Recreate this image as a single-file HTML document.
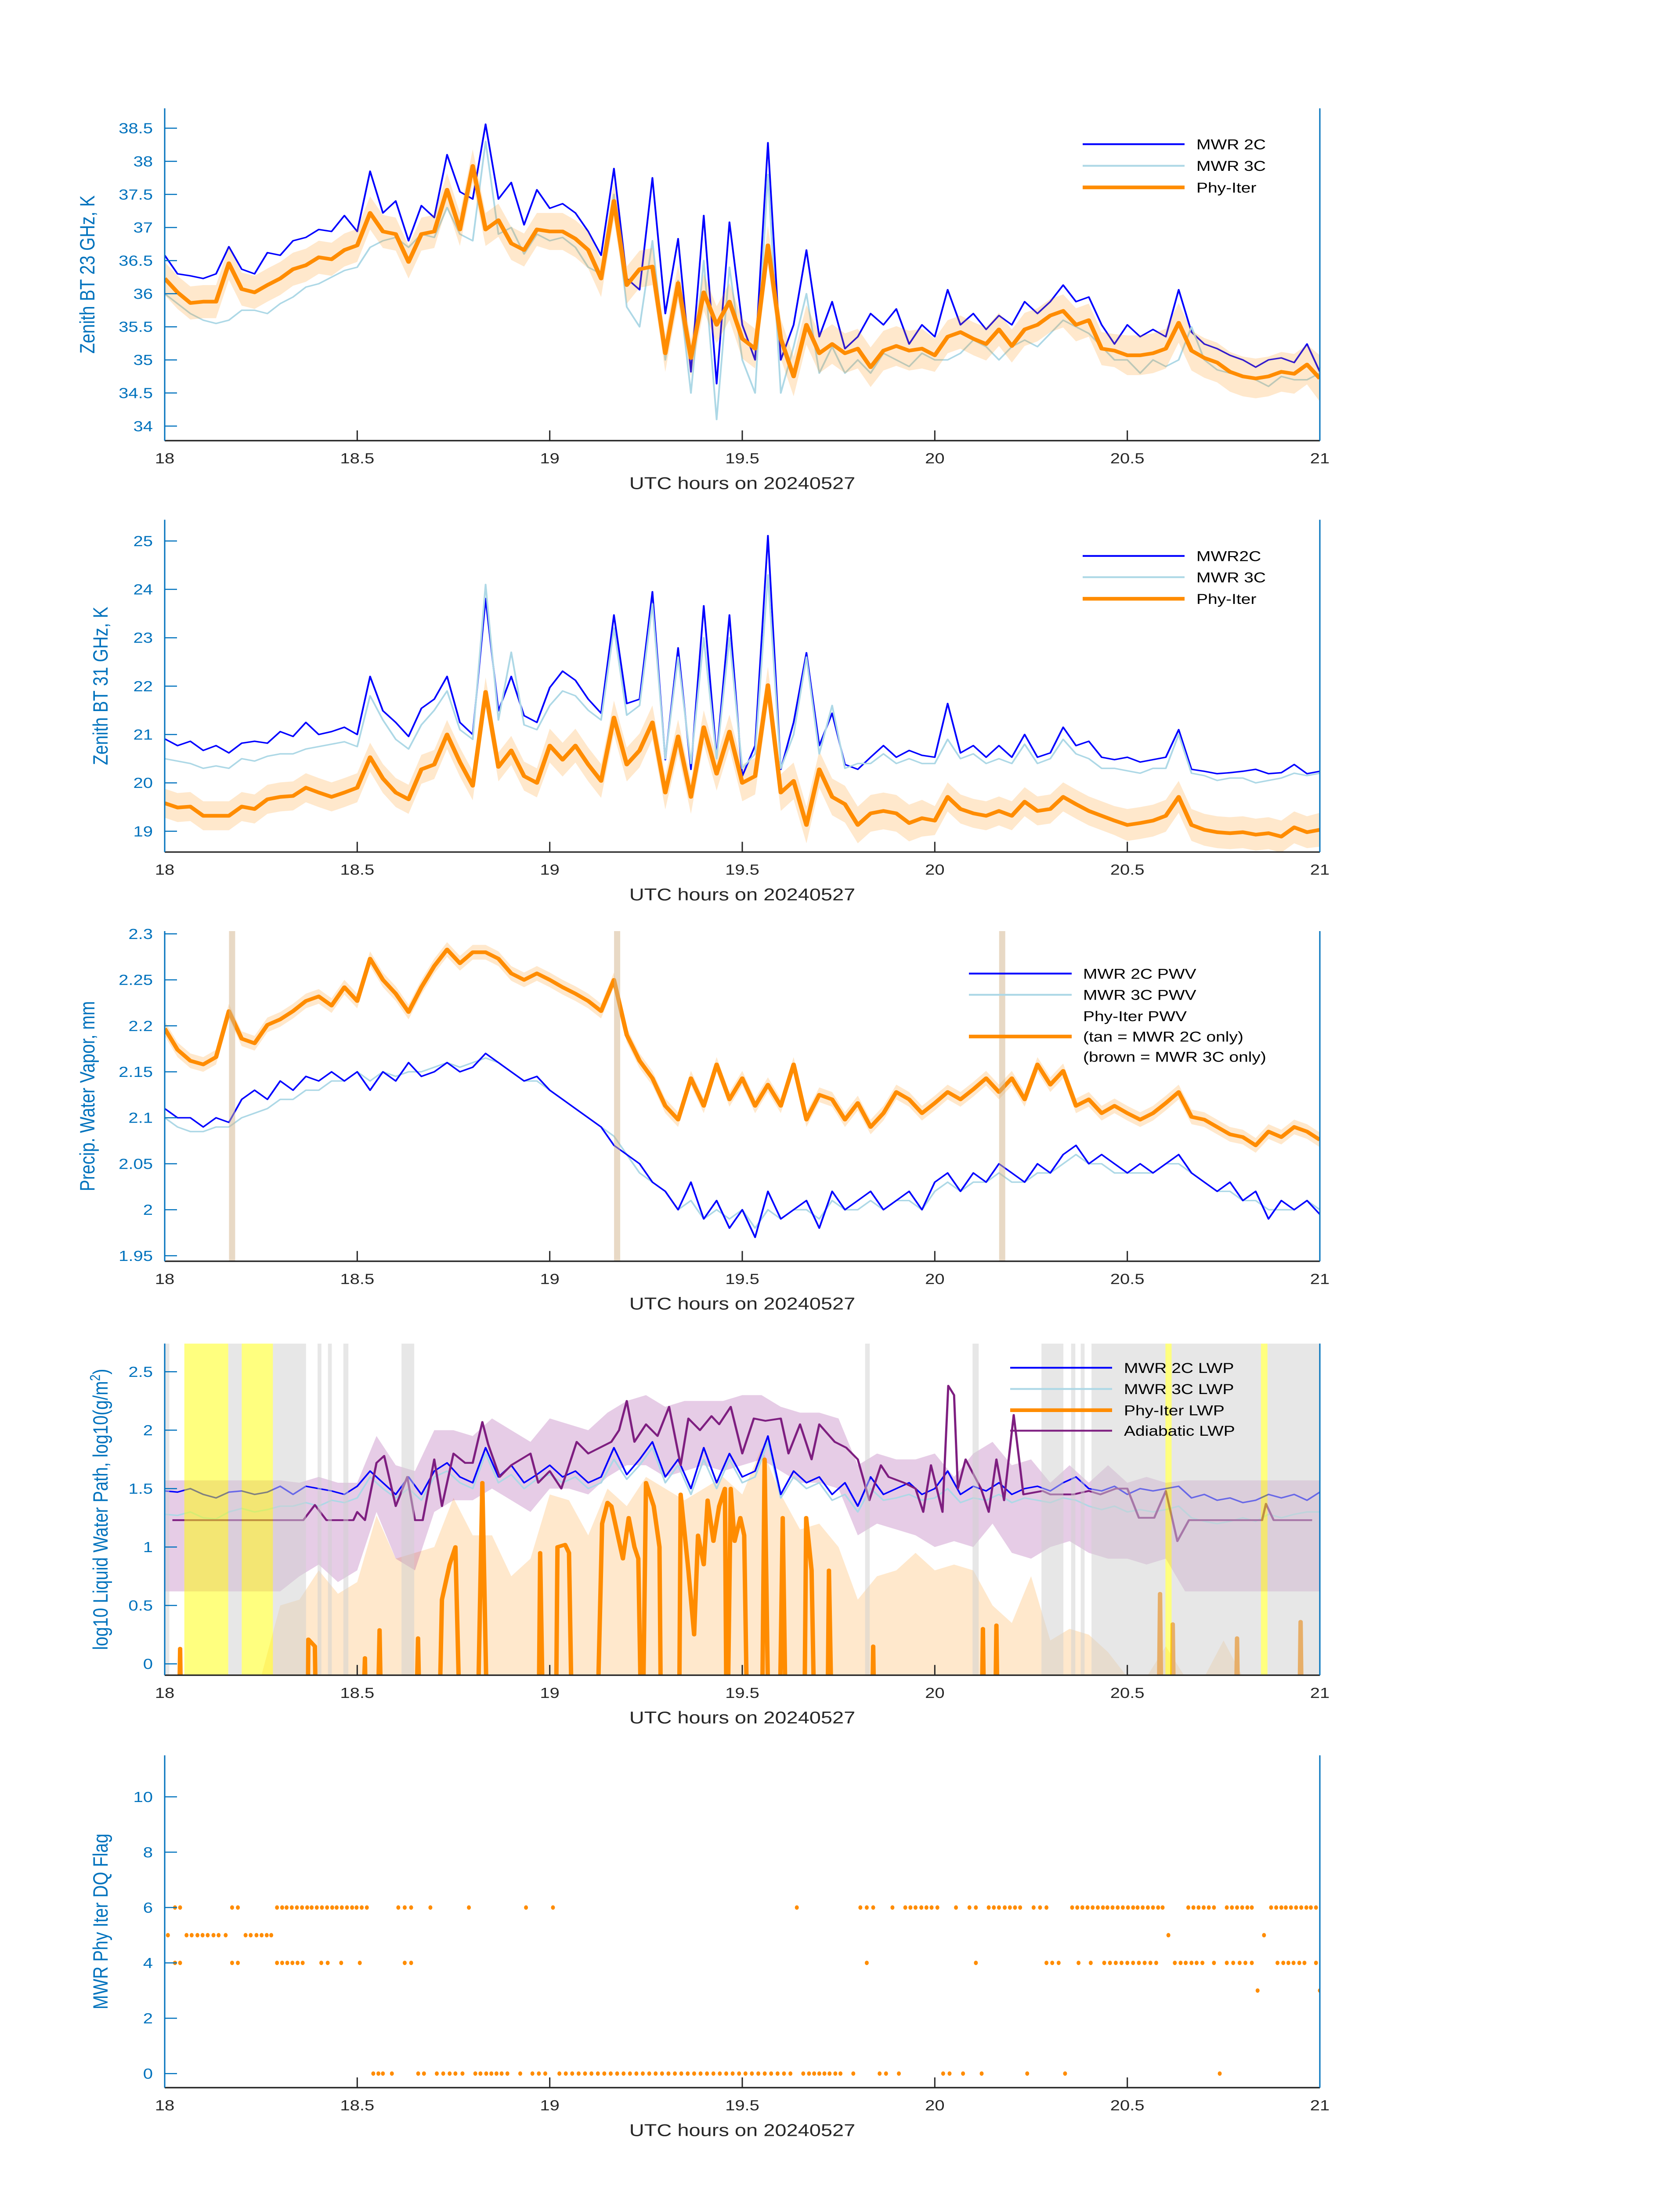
<!DOCTYPE html>
<html><head><meta charset="utf-8"><title>MWR Phy-Iter retrieval comparison, 20240527</title>
<style>html,body{margin:0;padding:0;background:#fff;width:100%;height:100%;overflow:hidden}svg{display:block;position:absolute;left:0;top:0;width:100vw;height:100vh}text{font-family:"Liberation Sans","DejaVu Sans",sans-serif}</style>
</head><body>
<svg id="fig" viewBox="0 0 3825 6000" preserveAspectRatio="none" xmlns="http://www.w3.org/2000/svg">
<rect width="3825" height="6000" fill="#fff"/>
</svg>
<script>
// ---------- DATA (2-minute grid from 18.0 to 21.0 UTC, 91 samples) ----------
const gridStepHours = 2/60;
const xTicks = [18,18.5,19,19.5,20,20.5,21];
const xTickLabels = ['18','18.5','19','19.5','20','20.5','21'];

// Panel 1: 23 GHz BT
const bt23Mwr2c = [36.58,36.3,36.27,36.23,36.3,36.71,36.37,36.3,36.62,36.58,
36.8,36.85,36.97,36.94,37.18,36.94,37.85,37.22,37.4,36.8,
37.33,37.15,38.1,37.54,37.43,38.56,37.43,37.68,37.04,37.57,
37.29,37.36,37.22,36.94,36.58,37.89,36.23,36.06,37.75,35.7,
36.83,34.82,37.18,34.64,37.08,35.53,35.0,38.28,35.0,35.53,
36.66,35.35,35.88,35.17,35.35,35.7,35.53,35.77,35.24,35.53,
35.35,36.06,35.53,35.7,35.46,35.67,35.53,35.88,35.7,35.88,
36.13,35.88,35.95,35.53,35.24,35.53,35.35,35.46,35.35,36.06,
35.42,35.24,35.17,35.07,35.0,34.89,35.0,35.03,34.96,35.24,34.82];
const bt23Mwr3c = [36.0,35.85,35.7,35.6,35.55,35.6,35.75,35.75,35.7,35.85,
35.95,36.1,36.15,36.25,36.35,36.4,36.7,36.8,36.85,36.7,
36.9,36.85,37.3,36.9,36.8,38.3,36.9,37.0,36.6,36.9,
36.8,36.85,36.7,36.4,36.3,37.5,35.8,35.5,36.8,35.0,
36.2,34.5,36.5,34.1,36.4,35.0,34.5,37.8,34.5,35.2,
36.0,34.8,35.2,34.8,35.0,34.8,35.1,35.0,34.9,35.1,
35.0,35.0,35.1,35.3,35.2,35.0,35.2,35.3,35.2,35.4,
35.6,35.5,35.4,35.2,35.0,35.0,34.8,35.0,34.9,35.0,
35.5,35.0,34.85,34.8,34.75,34.7,34.6,34.75,34.7,34.7,34.8];
const bt23PhyIter = [36.23,36.02,35.86,35.88,35.88,36.46,36.07,36.02,36.13,36.23,
36.37,36.43,36.55,36.52,36.66,36.73,37.22,36.94,36.9,36.48,
36.9,36.94,37.57,36.97,37.93,36.97,37.11,36.76,36.66,36.97,
36.94,36.94,36.83,36.66,36.23,37.4,36.13,36.37,36.41,35.1,
36.16,35.03,36.02,35.53,35.88,35.32,35.17,36.73,35.32,34.75,
35.53,35.1,35.24,35.1,35.17,34.89,35.14,35.21,35.14,35.17,
35.07,35.35,35.42,35.32,35.24,35.46,35.21,35.46,35.53,35.67,
35.74,35.53,35.6,35.17,35.14,35.07,35.07,35.1,35.17,35.56,
35.14,35.03,34.96,34.82,34.75,34.72,34.75,34.82,34.79,34.93,34.72];
const bt23PhyErr = [0.25,0.25,0.28,0.3,0.25,0.3,0.35]; // per half hour

// Panel 2: 31 GHz BT
const bt31Mwr2c = [20.91,20.77,20.86,20.67,20.77,20.62,20.82,20.86,20.82,21.06,
20.96,21.25,21.0,21.06,21.15,21.0,22.2,21.49,21.25,20.96,
21.54,21.73,22.2,21.25,21.0,23.81,21.49,22.2,21.39,21.25,
21.97,22.31,22.12,21.73,21.44,23.47,21.64,21.73,23.95,20.48,
22.79,20.28,23.66,20.53,23.47,20.14,20.77,25.11,20.28,21.25,
22.69,20.77,21.44,20.38,20.28,20.53,20.77,20.53,20.67,20.57,
20.53,21.64,20.62,20.77,20.53,20.77,20.53,21.0,20.53,20.62,
21.15,20.77,20.86,20.53,20.48,20.53,20.43,20.48,20.53,21.1,
20.28,20.24,20.19,20.21,20.24,20.28,20.19,20.21,20.38,20.19,20.24];
const bt31Mwr3c = [20.5,20.45,20.4,20.3,20.35,20.3,20.5,20.45,20.55,20.6,
20.6,20.7,20.75,20.8,20.85,20.75,21.8,21.3,20.9,20.7,
21.2,21.5,21.9,21.1,20.9,24.1,21.3,22.7,21.2,21.1,
21.6,21.9,21.8,21.5,21.3,23.2,21.4,21.6,23.7,20.5,
22.6,20.4,23.0,20.5,23.0,20.3,20.6,24.3,20.3,21.0,
22.6,20.6,21.6,20.3,20.4,20.4,20.6,20.4,20.5,20.4,
20.4,20.9,20.5,20.6,20.4,20.5,20.4,20.8,20.4,20.5,
20.9,20.6,20.5,20.3,20.3,20.25,20.2,20.3,20.3,21.0,
20.2,20.15,20.05,20.1,20.1,20.0,20.05,20.1,20.2,20.15,20.2];
const bt31PhyIter = [19.58,19.49,19.51,19.32,19.32,19.32,19.51,19.46,19.66,19.71,
19.73,19.9,19.8,19.71,19.8,19.9,20.53,20.09,19.8,19.66,
20.28,20.38,21.0,20.43,19.94,21.88,20.33,20.67,20.14,20.0,
20.77,20.48,20.77,20.38,20.04,21.35,20.38,20.67,21.25,19.8,
20.96,19.71,21.15,20.19,21.06,20.0,20.14,22.02,19.8,20.04,
19.13,20.28,19.71,19.56,19.13,19.37,19.42,19.37,19.17,19.27,
19.22,19.71,19.46,19.37,19.32,19.42,19.32,19.61,19.42,19.46,
19.71,19.56,19.42,19.32,19.22,19.13,19.17,19.22,19.32,19.71,
19.13,19.03,18.98,18.96,18.98,18.93,18.96,18.89,19.08,18.98,19.03];
const bt31PhyErr = [0.3,0.3,0.35,0.38,0.3,0.33,0.35];

// Panel 3: PWV
const pwvMwr2c = [2.11,2.1,2.1,2.09,2.1,2.095,2.12,2.13,2.12,2.14,
2.13,2.145,2.14,2.15,2.14,2.15,2.13,2.15,2.14,2.16,
2.145,2.15,2.16,2.15,2.155,2.17,2.16,2.15,2.14,2.145,
2.13,2.12,2.11,2.1,2.09,2.07,2.06,2.05,2.03,2.02,
2.0,2.03,1.99,2.01,1.98,2.0,1.97,2.02,1.99,2.0,
2.01,1.98,2.02,2.0,2.01,2.02,2.0,2.01,2.02,2.0,
2.03,2.04,2.02,2.04,2.03,2.05,2.04,2.03,2.05,2.04,
2.06,2.07,2.05,2.06,2.05,2.04,2.05,2.04,2.05,2.06,
2.04,2.03,2.02,2.03,2.01,2.02,1.99,2.01,2.0,2.01,1.995];
const pwvMwr3c = [2.1,2.09,2.085,2.085,2.09,2.09,2.1,2.105,2.11,2.12,
2.12,2.13,2.13,2.14,2.14,2.15,2.14,2.15,2.145,2.15,
2.15,2.155,2.16,2.155,2.16,2.165,2.16,2.15,2.14,2.14,
2.13,2.12,2.11,2.1,2.09,2.08,2.06,2.04,2.03,2.02,
2.0,2.01,1.99,2.0,1.99,2.0,1.98,2.0,1.99,2.0,
2.0,1.99,2.01,2.0,2.0,2.01,2.0,2.01,2.01,2.0,
2.02,2.03,2.02,2.03,2.03,2.04,2.03,2.03,2.04,2.04,
2.05,2.06,2.05,2.05,2.04,2.04,2.04,2.04,2.05,2.05,
2.04,2.03,2.02,2.02,2.01,2.01,2.0,2.0,2.0,2.01,2.0];
const pwvPhyIter = [2.197,2.174,2.162,2.158,2.166,2.216,2.186,2.181,2.201,2.207,
2.216,2.227,2.232,2.222,2.242,2.227,2.273,2.25,2.235,2.215,
2.242,2.265,2.283,2.268,2.28,2.28,2.273,2.257,2.25,2.257,
2.25,2.242,2.235,2.227,2.216,2.25,2.19,2.162,2.143,2.113,
2.098,2.143,2.113,2.158,2.12,2.143,2.113,2.136,2.113,2.158,
2.098,2.125,2.12,2.098,2.116,2.09,2.105,2.128,2.12,2.105,
2.116,2.128,2.12,2.131,2.143,2.128,2.143,2.12,2.158,2.136,
2.151,2.113,2.12,2.105,2.113,2.105,2.098,2.105,2.116,2.128,
2.101,2.098,2.09,2.082,2.079,2.07,2.085,2.079,2.09,2.085,2.076];
const pwvPhyErr = 0.008;
const pwvTanTimes = [18.175,19.175,20.175];

// Panel 4: LWP
const lwpMwr2c = [1.48,1.47,1.5,1.45,1.42,1.47,1.48,1.45,1.47,1.52,
1.45,1.52,1.5,1.48,1.45,1.52,1.65,1.55,1.45,1.6,
1.45,1.65,1.72,1.6,1.55,1.85,1.6,1.7,1.55,1.62,
1.7,1.6,1.65,1.55,1.6,1.85,1.62,1.75,1.9,1.6,
1.75,1.5,1.85,1.55,1.8,1.6,1.65,1.95,1.45,1.65,
1.55,1.6,1.45,1.55,1.35,1.6,1.45,1.5,1.55,1.45,
1.5,1.65,1.45,1.52,1.48,1.55,1.45,1.5,1.52,1.48,
1.55,1.6,1.5,1.48,1.52,1.45,1.5,1.48,1.5,1.52,
1.42,1.45,1.4,1.42,1.38,1.4,1.45,1.42,1.45,1.4,1.47];
const lwpMwr3c = [1.28,1.27,1.3,1.25,1.24,1.3,1.33,1.3,1.32,1.35,
1.35,1.38,1.35,1.4,1.38,1.42,1.6,1.5,1.42,1.5,
1.4,1.6,1.65,1.55,1.5,1.8,1.55,1.62,1.5,1.58,
1.62,1.55,1.6,1.5,1.55,1.75,1.58,1.7,1.85,1.55,
1.7,1.45,1.75,1.5,1.75,1.55,1.6,1.9,1.42,1.6,
1.5,1.55,1.4,1.45,1.3,1.5,1.4,1.42,1.45,1.4,
1.42,1.5,1.38,1.42,1.4,1.45,1.38,1.42,1.4,1.38,
1.42,1.4,1.35,1.32,1.35,1.3,1.32,1.3,1.32,1.35,
1.25,1.22,1.2,1.22,1.25,1.22,1.28,1.25,1.28,1.3,1.3];
// Phy-Iter LWP (time, value) ; -1 = clear sky (drawn off the bottom)
const lwpPhyTimes = [18.0,18.035,18.04,18.045,18.37,18.373,18.39,18.395,18.51,18.52,18.525,18.55,18.558,18.565,18.65,18.658,18.665,18.71,18.72,18.74,18.755,18.77,18.81,18.825,18.84,18.97,18.975,18.985,19.015,19.02,19.04,19.05,19.06,19.12,19.136,19.15,19.16,19.19,19.205,19.22,19.23,19.24,19.25,19.27,19.285,19.29,19.335,19.34,19.36,19.375,19.385,19.4,19.41,19.425,19.44,19.455,19.46,19.47,19.48,19.495,19.505,19.515,19.55,19.558,19.57,19.595,19.605,19.615,19.66,19.666,19.68,19.69,19.72,19.725,19.735,19.835,19.84,19.845,20.12,20.125,20.13,20.155,20.16,20.165,20.58,20.585,20.59,20.615,20.618,20.623,20.78,20.785,20.79,20.945,20.95,20.955,21.0];
const lwpPhyValues = [-1,-1,0.13,-1,-1,0.21,0.15,-1,-1,0.05,-1,-1,0.29,-1,-1,0.22,-1,-1,0.55,0.85,1.0,-1,-1,1.55,-1,-1,0.95,-1,-1,1.0,1.02,0.95,-1,-1,1.2,1.38,1.35,0.9,1.25,1.0,0.9,-1,1.55,1.35,1.0,-1,-1,1.45,0.8,0.25,1.1,0.85,1.4,1.05,1.35,1.5,-1,1.5,1.05,1.25,1.1,-1,-1,1.75,-1,-1,1.25,-1,-1,1.25,0.8,-1,-1,0.8,-1,-1,0.15,-1,-1,0.3,-1,-1,0.33,-1,-1,0.6,-1,-1,0.34,-1,-1,0.22,-1,-1,0.36,-1,-1];
// Phy-Iter uncertainty upper bound, every 3 minutes
const lwpPhyUpper = [0,0,0,0,0,0,0.5,0.55,0.8,0.6,0.7,1.27,0.9,0.95,1.0,1.42,1.1,1.1,0.75,0.9,1.45,1.4,1.1,1.5,1.35,1.6,1.5,1.4,1.5,1.6,1.45,1.85,1.45,1.15,1.2,1.0,0.55,0.75,0.8,0.95,0.8,0.85,0.8,0.5,0.35,0.75,0.2,0.3,0.25,0.1,0,0,0.15,0,0,0.2,0,0,0,0,0];
// Adiabatic LWP band, every 3 minutes
const lwpAdiLower = [0.62,0.62,0.62,0.62,0.62,0.62,0.62,0.75,0.85,0.7,0.8,1.3,0.9,0.8,1.3,1.4,1.4,1.5,1.4,1.3,1.5,1.5,1.45,1.6,1.7,1.7,1.6,1.65,1.7,1.65,1.7,1.75,1.65,1.55,1.55,1.5,1.1,1.2,1.15,1.1,1.0,1.05,1.0,1.2,0.95,0.9,1.0,1.05,0.95,0.9,0.9,0.85,0.9,0.62,0.62,0.62,0.62,0.62,0.62,0.62,0.62];
const lwpAdiUpper = [1.57,1.57,1.57,1.57,1.57,1.57,1.57,1.55,1.6,1.55,1.55,1.95,1.7,1.65,2.0,2.0,1.95,2.1,2.0,1.9,2.1,2.05,2.0,2.15,2.25,2.3,2.2,2.25,2.25,2.25,2.3,2.3,2.2,2.15,2.15,2.1,1.7,1.8,1.75,1.75,1.8,1.6,1.8,1.9,1.7,1.75,1.55,1.7,1.55,1.7,1.55,1.6,1.55,1.57,1.57,1.57,1.57,1.57,1.57,1.57,1.57];
const lwpAdiTimes = [18.02,18.36,18.39,18.42,18.49,18.5,18.52,18.55,18.57,18.6,18.63,18.65,18.67,18.7,18.72,18.75,18.78,18.8,18.825,18.84,18.87,18.9,18.95,18.97,19.0,19.03,19.07,19.1,19.13,19.16,19.18,19.2,19.22,19.25,19.28,19.31,19.34,19.36,19.39,19.42,19.44,19.47,19.5,19.53,19.56,19.6,19.62,19.65,19.68,19.7,19.74,19.77,19.8,19.83,19.86,19.88,19.92,19.95,19.97,19.99,20.02,20.035,20.05,20.06,20.08,20.12,20.14,20.16,20.18,20.205,20.23,20.28,20.3,20.36,20.4,20.43,20.47,20.5,20.53,20.57,20.6,20.63,20.66,20.85,20.86,20.88,20.98];
const lwpAdiValues = [1.23,1.23,1.36,1.23,1.23,1.3,1.23,1.72,1.78,1.35,1.6,1.23,1.23,1.75,1.35,1.8,1.72,1.72,2.07,1.88,1.6,1.7,1.8,1.55,1.65,1.5,1.9,1.8,1.85,1.9,2.0,2.25,1.9,2.05,1.95,2.2,1.7,2.1,2.0,2.12,2.05,2.2,1.8,2.1,2.08,2.1,1.8,2.05,1.75,2.05,1.9,1.85,1.75,1.4,1.7,1.6,1.55,1.5,1.3,1.7,1.3,2.38,2.3,1.5,1.75,1.5,1.3,1.75,1.4,2.13,1.45,1.48,1.45,1.45,1.48,1.45,1.5,1.5,1.25,1.25,1.48,1.05,1.23,1.23,1.37,1.23,1.23];
// QC shading intervals (hours)
const grayStarts = [18.0,18.165,18.281,18.397,18.424,18.464,18.615,19.819,20.098,20.277,20.354,20.379,20.407,20.615,20.864];
const grayEnds   = [18.012,18.2,18.367,18.407,18.434,18.477,18.648,19.831,20.114,20.334,20.365,20.389,20.599,20.847,21.0];
const yellowStarts = [18.051,18.2,20.599,20.847];
const yellowEnds   = [18.165,18.281,20.615,20.864];

// Panel 5: DQ flag (minutes after 18 UTC for each flag value)
const flag6Minutes = [1.6,2.4,10.5,11.4,17.5,18.3,19.0,19.8,20.6,21.4,22.2,22.9,23.7,24.5,25.3,26.1,26.8,27.6,28.4,29.2,29.9,30.7,31.5,36.4,37.4,38.4,41.4,47.4,56.3,60.5,98.5,108.4,109.4,110.4,113.4,115.4,116.2,117.0,117.9,118.7,119.5,120.4,123.3,125.4,126.4,128.4,129.2,130.0,130.9,131.7,132.5,133.3,135.4,136.4,137.4,141.4,142.2,143.0,143.8,144.6,145.4,146.2,146.9,147.7,148.5,149.3,150.1,150.9,151.6,152.4,153.2,154.0,154.8,155.5,159.5,160.3,161.1,161.9,162.7,163.5,165.5,166.3,167.1,167.9,168.7,169.4,172.4,173.2,174.0,174.7,175.5,176.3,177.1,177.9,178.6,179.4];
const flag5Minutes = [0.5,3.4,4.2,5.1,5.9,6.7,7.6,8.4,9.5,12.6,13.4,14.3,15.1,15.9,16.6,156.4,171.3];
const flag4Minutes = [1.6,2.4,10.5,11.4,17.5,18.3,19.1,19.9,20.7,21.5,24.4,25.4,27.5,30.4,37.4,38.4,109.4,126.4,137.4,138.3,139.3,142.4,144.3,146.4,147.3,148.2,149.1,150.0,150.9,151.8,152.7,153.6,154.5,157.4,158.3,159.1,160.0,160.8,161.7,163.5,165.5,166.5,167.5,168.4,169.4,173.4,174.3,175.1,175.9,176.8,177.6,179.4];
const flag3Minutes = [170.3,180.0];
const flag0Minutes = [32.5,33.3,34.0,35.4,39.5,40.4,42.4,43.4,44.4,45.3,46.4,48.4,49.2,50.1,50.9,51.7,52.5,53.4,55.4,57.3,58.3,59.3,61.5,62.5,63.5,64.5,65.5,66.5,67.5,68.5,69.5,70.5,71.5,72.5,73.5,74.5,75.5,76.5,77.5,78.5,79.5,80.5,81.5,82.5,83.5,84.5,85.5,86.5,87.5,88.5,89.5,90.5,91.5,92.5,93.5,94.5,95.5,96.5,97.5,99.5,100.4,101.2,102.0,102.8,103.6,104.5,105.3,107.3,111.4,112.4,114.4,121.3,122.3,124.4,127.3,134.4,140.3,164.4];

// ---------- RENDERING ----------
const NS = 'http://www.w3.org/2000/svg';
const svg = document.getElementById('fig');
function mk(tag, attrs, parent) {
  const e = document.createElementNS(NS, tag);
  for (const k in attrs) e.setAttribute(k, attrs[k]);
  (parent || svg).appendChild(e);
  return e;
}
const X0 = 375, X1 = 3005;
function makeAxes(top, bottom, ymin, ymax) {
  return {
    top, bottom,
    sx: t => X0 + (t - 18) / 3 * (X1 - X0),
    sy: v => bottom - (v - ymin) / (ymax - ymin) * (bottom - top)
  };
}
function gridTime(i) { return 18 + i * gridStepHours; }
function pathFrom(ax, vals) {
  let d = '';
  vals.forEach((v, i) => { d += (i ? 'L' : 'M') + ax.sx(gridTime(i)).toFixed(1) + ' ' + ax.sy(v).toFixed(1); });
  return d;
}
function pathPairs(ax, ts, vs) {
  let d = '';
  ts.forEach((t, i) => { d += (i ? 'L' : 'M') + ax.sx(t).toFixed(1) + ' ' + ax.sy(vs[i]).toFixed(1); });
  return d;
}
function bandFrom(ax, vals, errFn) {
  let up = '', lo = [];
  vals.forEach((v, i) => {
    const x = ax.sx(gridTime(i)).toFixed(1);
    up += (i ? 'L' : 'M') + x + ' ' + ax.sy(v + errFn(i)).toFixed(1);
    lo.push('L' + x + ' ' + ax.sy(v - errFn(i)).toFixed(1));
  });
  return up + lo.reverse().join('') + 'Z';
}
let clipId = 0;
function makeGroup(ax, name) {
  const g = mk('g', {});
  
  
  const id = 'clip' + (clipId++);
  const cp = mk('clipPath', {id}, g);
  mk('rect', {x: X0, y: ax.top, width: X1 - X0, height: ax.bottom - ax.top}, cp);
  const plot = mk('g', {'clip-path': 'url(#' + id + ')'}, g);
  
  
  return {g, plot};
}
function drawFrame(ax, g, yTicks, yLabels, yTitle, yTitleX, name) {
  xTicks.forEach((t, i) => {
    const x = ax.sx(t);
    const tk = mk('line', {x1: x, x2: x, y1: ax.bottom, y2: ax.bottom - 28, stroke: '#262626', 'stroke-width': 3}, g);
    
    
    const tl = mk('text', {x: x, y: ax.bottom + 62, 'font-size': 40, fill: '#262626', 'text-anchor': 'middle'}, g);
    tl.textContent = xTickLabels[i];
    
    
  });
  const bx = mk('line', {x1: X0, x2: X1, y1: ax.bottom, y2: ax.bottom, stroke: '#262626', 'stroke-width': 4}, g);
  
  
  const ly = mk('line', {x1: X0, x2: X0, y1: ax.top, y2: ax.bottom, stroke: '#0072BD', 'stroke-width': 3}, g);
  
  
  const ry = mk('line', {x1: X1, x2: X1, y1: ax.top, y2: ax.bottom, stroke: '#0072BD', 'stroke-width': 3}, g);
  
  
  yTicks.forEach((v, i) => {
    const y = ax.sy(v);
    const tk = mk('line', {x1: X0, x2: X0 + 28, y1: y, y2: y, stroke: '#0072BD', 'stroke-width': 3}, g);
    
    
    const tl = mk('text', {x: 348, y: y + 14, 'font-size': 40, fill: '#0072BD', 'text-anchor': 'end'}, g);
    tl.textContent = yLabels[i];
    
    
  });
  const xt = mk('text', {x: 1690, y: ax.bottom + 132, 'font-size': 47, fill: '#262626', 'text-anchor': 'middle'}, g);
  xt.textContent = 'UTC hours on 20240527';
  
  
  const cy = (ax.top + ax.bottom) / 2;
  const yt = mk('text', {x: yTitleX, y: cy, 'font-size': 47, fill: '#0072BD', 'text-anchor': 'middle', transform: 'rotate(-90 ' + yTitleX + ' ' + cy + ')'}, g);
  if (Array.isArray(yTitle)) {
    yTitle.forEach(part => {
      const ts = mk('tspan', part.sup ? {'baseline-shift': 'super', 'font-size': 32} : {}, yt);
      ts.textContent = part.t;
    });
  } else yt.textContent = yTitle;
  
  
}
function legendEntry(g, x1, x2, y, color, width, label, tx) {
  if (color) {
    const l = mk('line', {x1, x2, y1: y, y2: y, stroke: color, 'stroke-width': width}, g);
    
    
  }
  const t = mk('text', {x: tx, y: y + 14, 'font-size': 39, fill: '#000'}, g);
  t.textContent = label;
  
  
}
const BLUE = '#0000ff', LBLUE = '#add8e6', ORANGE = '#ff8c00';

// ===== Panel 1 =====
(function () {
  const ax = makeAxes(296, 1204, 33.78, 38.80);
  const {g, plot} = makeGroup(ax, 'bt23-panel');
  const l2 = mk('path', {d: pathFrom(ax, bt23Mwr2c), fill: 'none', stroke: BLUE, 'stroke-width': 4, 'stroke-linejoin': 'round'}, plot);
  
  
  const l3 = mk('path', {d: pathFrom(ax, bt23Mwr3c), fill: 'none', stroke: LBLUE, 'stroke-width': 4, 'stroke-linejoin': 'round'}, plot);
  
  
  const b = mk('path', {d: bandFrom(ax, bt23PhyIter, i => bt23PhyErr[Math.min(6, Math.floor(i / 15))]), fill: ORANGE, 'fill-opacity': 0.2, stroke: 'none'}, plot);
  
  
  const lo = mk('path', {d: pathFrom(ax, bt23PhyIter), fill: 'none', stroke: ORANGE, 'stroke-width': 10, 'stroke-linejoin': 'round'}, plot);
  
  
  drawFrame(ax, g, [34,34.5,35,35.5,36,36.5,37,37.5,38,38.5], ['34','34.5','35','35.5','36','36.5','37','37.5','38','38.5'], 'Zenith BT 23 GHz, K', 215, 'p1');
  legendEntry(g, 2465, 2697, 394, BLUE, 5, 'MWR 2C', 2724);
  legendEntry(g, 2465, 2697, 453, LBLUE, 5, 'MWR 3C', 2724);
  legendEntry(g, 2465, 2697, 512, ORANGE, 10, 'Phy-Iter', 2724);
})();

// ===== Panel 2 =====
(function () {
  const ax = makeAxes(1420, 2328, 18.57, 25.44);
  const {g, plot} = makeGroup(ax, 'bt31-panel');
  const b = mk('path', {d: bandFrom(ax, bt31PhyIter, i => bt31PhyErr[Math.min(6, Math.floor(i / 15))]), fill: ORANGE, 'fill-opacity': 0.2, stroke: 'none'}, plot);
  
  
  const l2 = mk('path', {d: pathFrom(ax, bt31Mwr2c), fill: 'none', stroke: BLUE, 'stroke-width': 4, 'stroke-linejoin': 'round'}, plot);
  
  
  const l3 = mk('path', {d: pathFrom(ax, bt31Mwr3c), fill: 'none', stroke: LBLUE, 'stroke-width': 4, 'stroke-linejoin': 'round'}, plot);
  
  
  const lo = mk('path', {d: pathFrom(ax, bt31PhyIter), fill: 'none', stroke: ORANGE, 'stroke-width': 10, 'stroke-linejoin': 'round'}, plot);
  
  
  drawFrame(ax, g, [19,20,21,22,23,24,25], ['19','20','21','22','23','24','25'], 'Zenith BT 31 GHz, K', 245, 'p2');
  legendEntry(g, 2465, 2697, 1519, BLUE, 5, 'MWR2C', 2724);
  legendEntry(g, 2465, 2697, 1577, LBLUE, 5, 'MWR 3C', 2724);
  legendEntry(g, 2465, 2697, 1636, ORANGE, 10, 'Phy-Iter', 2724);
})();

// ===== Panel 3 =====
(function () {
  const ax = makeAxes(2544, 3446, 1.944, 2.303);
  const {g, plot} = makeGroup(ax, 'pwv-panel');
  const b = mk('path', {d: bandFrom(ax, pwvPhyIter, () => pwvPhyErr), fill: ORANGE, 'fill-opacity': 0.2, stroke: 'none'}, plot);
  
  
  const l3 = mk('path', {d: pathFrom(ax, pwvMwr3c), fill: 'none', stroke: LBLUE, 'stroke-width': 4, 'stroke-linejoin': 'round'}, plot);
  
  
  const l2 = mk('path', {d: pathFrom(ax, pwvMwr2c), fill: 'none', stroke: BLUE, 'stroke-width': 4, 'stroke-linejoin': 'round'}, plot);
  
  
  const lo = mk('path', {d: pathFrom(ax, pwvPhyIter), fill: 'none', stroke: ORANGE, 'stroke-width': 10, 'stroke-linejoin': 'round'}, plot);
  
  
  pwvTanTimes.forEach(t => {
    const r = mk('rect', {x: ax.sx(t) - 7, y: ax.top, width: 14, height: ax.bottom - ax.top, fill: '#d2b48c', 'fill-opacity': 0.5}, plot);
    
    
  });
  drawFrame(ax, g, [1.95,2,2.05,2.1,2.15,2.2,2.25,2.3], ['1.95','2','2.05','2.1','2.15','2.2','2.25','2.3'], 'Precip. Water Vapor, mm', 215, 'p3');
  legendEntry(g, 2206, 2440, 2660, BLUE, 5, 'MWR 2C PWV', 2466);
  legendEntry(g, 2206, 2440, 2718, LBLUE, 5, 'MWR 3C PWV', 2466);
  legendEntry(g, 2206, 2440, 2776, null, 0, 'Phy-Iter PWV', 2466);
  legendEntry(g, 2206, 2440, 2832, ORANGE, 10, '(tan = MWR 2C only)', 2466);
  legendEntry(g, 2206, 2440, 2887, null, 0, '(brown = MWR 3C only)', 2466);
})();

// ===== Panel 4 =====
(function () {
  const ax = makeAxes(3671, 4577, -0.097, 2.741);
  const {g, plot} = makeGroup(ax, 'lwp-panel');
  const step3 = 0.05;
  let d = '';
  lwpPhyUpper.forEach((v, i) => { d += (i ? 'L' : 'M') + ax.sx(18 + i * step3).toFixed(1) + ' ' + (v > 0 ? ax.sy(v) : ax.bottom + 5).toFixed(1); });
  d += 'L' + ax.sx(21) + ' ' + (ax.bottom + 5) + 'L' + ax.sx(18) + ' ' + (ax.bottom + 5) + 'Z';
  const of = mk('path', {d, fill: ORANGE, 'fill-opacity': 0.2, stroke: 'none'}, plot);
  
  
  let up = '', lo = [];
  lwpAdiUpper.forEach((v, i) => {
    const x = ax.sx(18 + i * step3).toFixed(1);
    up += (i ? 'L' : 'M') + x + ' ' + ax.sy(v).toFixed(1);
    lo.push('L' + x + ' ' + ax.sy(lwpAdiLower[i]).toFixed(1));
  });
  const pb = mk('path', {d: up + lo.reverse().join('') + 'Z', fill: '#800080', 'fill-opacity': 0.2, stroke: 'none'}, plot);
  
  
  const l3 = mk('path', {d: pathFrom(ax, lwpMwr3c), fill: 'none', stroke: LBLUE, 'stroke-width': 4, 'stroke-linejoin': 'round'}, plot);
  
  
  const l2 = mk('path', {d: pathFrom(ax, lwpMwr2c), fill: 'none', stroke: BLUE, 'stroke-width': 4, 'stroke-linejoin': 'round'}, plot);
  
  
  const lp = mk('path', {d: pathPairs(ax, lwpPhyTimes, lwpPhyValues), fill: 'none', stroke: ORANGE, 'stroke-width': 10, 'stroke-linejoin': 'round'}, plot);
  
  
  const la = mk('path', {d: pathPairs(ax, lwpAdiTimes, lwpAdiValues), fill: 'none', stroke: '#7e1e80', 'stroke-width': 5, 'stroke-linejoin': 'round'}, plot);
  
  
  grayStarts.forEach((s, i) => {
    const r = mk('rect', {x: ax.sx(s), y: ax.top, width: Math.max(4, ax.sx(grayEnds[i]) - ax.sx(s)), height: ax.bottom - ax.top, fill: '#d0d0d0', 'fill-opacity': 0.5}, plot);
    
    
  });
  yellowStarts.forEach((s, i) => {
    const r = mk('rect', {x: ax.sx(s), y: ax.top, width: ax.sx(yellowEnds[i]) - ax.sx(s), height: ax.bottom - ax.top, fill: '#ffff00', 'fill-opacity': 0.5}, plot);
    
    
  });
  drawFrame(ax, g, [0,0.5,1,1.5,2,2.5], ['0','0.5','1','1.5','2','2.5'], [{t: 'log10 Liquid Water Path, log10(g/m'}, {t: '2', sup: true}, {t: ')'}], 245, 'p4');
  legendEntry(g, 2300, 2532, 3737, BLUE, 5, 'MWR 2C LWP', 2559);
  legendEntry(g, 2300, 2532, 3795, LBLUE, 5, 'MWR 3C LWP', 2559);
  legendEntry(g, 2300, 2532, 3853, ORANGE, 10, 'Phy-Iter LWP', 2559);
  legendEntry(g, 2300, 2532, 3909, '#7e1e80', 5, 'Adiabatic LWP', 2559);
})();

// ===== Panel 5 =====
(function () {
  const ax = makeAxes(4796, 5704, -0.51, 11.5);
  const {g, plot} = makeGroup(ax, 'dq-flag-panel');
  const levels = [[6, flag6Minutes], [5, flag5Minutes], [4, flag4Minutes], [3, flag3Minutes], [0, flag0Minutes]];
  levels.forEach(([lv, mins]) => {
    mins.forEach(m => {
      const c = mk('ellipse', {cx: ax.sx(18 + m / 60), cy: ax.sy(lv), rx: 4.5, ry: 6, fill: ORANGE}, plot);
      
      
    });
  });
  drawFrame(ax, g, [0,2,4,6,8,10], ['0','2','4','6','8','10'], 'MWR Phy Iter DQ Flag', 245, 'p5');
})();
</script>
</body></html>
